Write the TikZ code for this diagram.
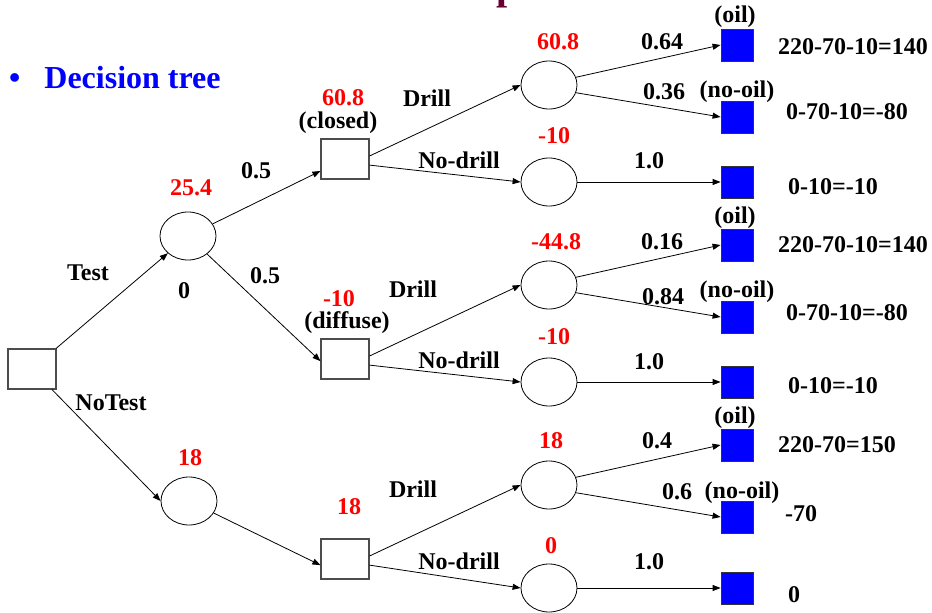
\documentclass[tikz,border=0pt]{standalone}
\usepackage{fontspec}
\setmainfont{Liberation Serif}
\usetikzlibrary{shapes.geometric, arrows.meta, positioning}
\definecolor{titlered}{RGB}{102,0,51}
\tikzstyle{decision} = [rectangle, minimum width=48pt, minimum height=40pt, draw=black!70, line width=1.1pt]
\tikzstyle{chance} = [ellipse, minimum width=56pt, minimum height=48pt, draw=black, line width=0.8pt]
\tikzstyle{outcome} = [rectangle, minimum width=32pt, minimum height=32pt, draw=black!80, line width=0.8pt, fill=blue]
\tikzstyle{txt} = [font=\fontsize{24}{26}\selectfont\bfseries, inner sep=0pt]
\tikzstyle{val} = [txt, text=red]
\tikzstyle{payoff} = [txt, anchor=west]
\tikzstyle{arrow} = [line width=0.8pt, -{Triangle[length=8pt,width=6pt]}]

\begin{document}
\begin{tikzpicture}[x=1pt, y=-1pt]
\useasboundingbox (0,0) rectangle (932,613);

% heading
\node (head) [anchor=base west, text=titlered, font=\fontsize{40}{44}\selectfont\bfseries, inner sep=0pt] at (496,0) {p};
\node (bullet) [anchor=west, text=blue, font=\fontsize{32}{36}\selectfont\bfseries, inner sep=0pt] at (9,78) {\textbullet\hspace{24pt}Decision tree};

% decision and chance nodes
\node (root) [decision] at (32,369) {};
\node (test) [chance] at (188,236) {};
\node (notest) [chance] at (189,501) {};
\node (closed) [decision] at (345,159) {};
\node (diffuse) [decision] at (345,359) {};
\node (nosurvey) [decision] at (345,559) {};

\node (c1) [chance] at (549,85) {};
\node (c2) [chance] at (549,182) {};
\node (c3) [chance] at (549,285) {};
\node (c4) [chance] at (549,382) {};
\node (c5) [chance] at (549,485) {};
\node (c6) [chance] at (549,588) {};

% end points
\node (o1) [outcome] at (737,45) {};
\node (o2) [outcome] at (737,117) {};
\node (o3) [outcome] at (737,182) {};
\node (o4) [outcome] at (737,245) {};
\node (o5) [outcome] at (737,317) {};
\node (o6) [outcome] at (737,382) {};
\node (o7) [outcome] at (737,445) {};
\node (o8) [outcome] at (737,517) {};
\node (o9) [outcome] at (737,588) {};

% branches
\draw [arrow] (root) -- (test);
\draw [arrow] (root) -- (notest.west);
\draw [arrow] (test) -- (closed);
\draw [arrow] (test) -- (diffuse.185);
\draw [arrow] (notest) -- (nosurvey.194);

\draw [arrow] (closed.7) -- (c1.west);
\draw [arrow] (closed.-14) -- (c2.west);
\draw [arrow] (diffuse.7) -- (c3.west);
\draw [arrow] (diffuse.-14) -- (c4.west);
\draw [arrow] (nosurvey.7) -- (c5.west);
\draw [arrow] (nosurvey.-14) -- (c6.west);

\draw [arrow] (c1.16) -- (o1.west);
\draw [arrow] (c1.-16) -- (o2.west);
\draw [arrow] (c2) -- (o3);
\draw [arrow] (c3.16) -- (o4.west);
\draw [arrow] (c3.-16) -- (o5.west);
\draw [arrow] (c4) -- (o6);
\draw [arrow] (c5.16) -- (o7.west);
\draw [arrow] (c5.-16) -- (o8.west);
\draw [arrow] (c6) -- (o9);

% first stage
\node (ltest) [txt] at (88,273) {Test};
\node (lnotest) [txt] at (111,403) {NoTest};
\node (vtest) [val] at (191,188) {25.4};
\node (ctest) [txt] at (184,291) {0};
\node (pclosed) [txt] at (256,171) {0.5};
\node (pdiffuse) [txt] at (265,276) {0.5};
\node (vnotest) [val] at (190,458) {18};

% second stage
\node (vclosed) [val] at (343,98) {60.8};
\node (lclosed) [txt] at (338,123) {(closed)};
\node (vdiffuse) [val] at (339,299) {-10};
\node (ldiffuse) [txt] at (347,323) {(diffuse)};
\node (vnosurvey) [val] at (349,507) {18};

\node (d1) [txt] at (427,98) {Drill};
\node (n1) [txt] at (459,160) {No-drill};
\node (d2) [txt] at (413,289) {Drill};
\node (n2) [txt] at (459,360) {No-drill};
\node (d3) [txt] at (413,489) {Drill};
\node (n3) [txt] at (459,561) {No-drill};

% chance values
\node (v1) [val] at (558,42) {60.8};
\node (v2) [val] at (554,136) {-10};
\node (v3) [val] at (556,242) {-44.8};
\node (v4) [val] at (554,337) {-10};
\node (v5) [val] at (551,441) {18};
\node (v6) [val] at (551,546) {0};

% probabilities
\node (p1) [txt] at (662,42) {0.64};
\node (p2) [txt] at (664,92) {0.36};
\node (p3) [txt] at (649,161) {1.0};
\node (p4) [txt] at (662,242) {0.16};
\node (p5) [txt] at (663,297) {0.84};
\node (p6) [txt] at (649,362) {1.0};
\node (p7) [txt] at (657,441) {0.4};
\node (p8) [txt] at (677,492) {0.6};
\node (p9) [txt] at (649,562) {1.0};

% oil / no-oil tags
\node (oil1) [txt] at (735,17) {(oil)};
\node (dry1) [txt] at (737,92) {(no-oil)};
\node (oil2) [txt] at (735,218) {(oil)};
\node (dry2) [txt] at (737,292) {(no-oil)};
\node (oil3) [txt] at (735,418) {(oil)};
\node (dry3) [txt] at (742,493) {(no-oil)};

% payoffs
\node (r1) [payoff] at (778,47) {220-70-10=140};
\node (r2) [payoff] at (786,112) {0-70-10=-80};
\node (r3) [payoff] at (788,187) {0-10=-10};
\node (r4) [payoff] at (778,245) {220-70-10=140};
\node (r5) [payoff] at (786,313) {0-70-10=-80};
\node (r6) [payoff] at (788,386) {0-10=-10};
\node (r7) [payoff] at (778,445) {220-70=150};
\node (r8) [payoff] at (785,514) {-70};
\node (r9) [payoff] at (788,595) {0};

\end{tikzpicture}
\end{document}
